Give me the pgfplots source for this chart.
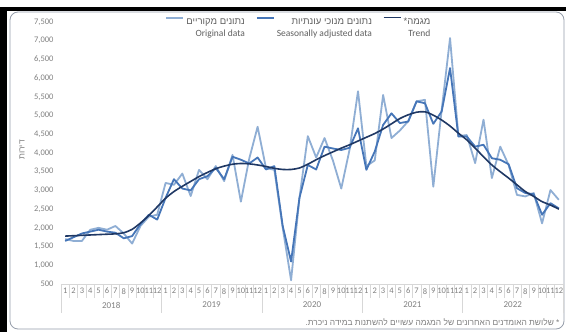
\documentclass[border=0pt]{standalone}
\usepackage{fontspec}
\usepackage{pgfplots}
\usepackage{pgfplotstable}
\pgfplotsset{compat=1.18}
\TeXXeTstate=1
\setmainfont{Carlito}
\newfontfamily\hebfont[Script=Hebrew]{Liberation Sans}
\newcommand\heb[1]{{\hebfont\beginR #1\endR}}

\definecolor{origblue}{RGB}{143,174,212}
\definecolor{sablue}{RGB}{70,118,184}
\definecolor{trendblue}{RGB}{31,56,100}
\definecolor{tickgray}{RGB}{128,128,128}
\definecolor{legendgray}{RGB}{96,96,96}
\definecolor{sepgray}{RGB}{215,215,215}
\definecolor{framegray}{RGB}{150,158,170}

% monthly apartments: original, seasonally adjusted, trend
\pgfplotstableread{
i O S T
0 1700 1650 1780
1 1650 1750 1790
2 1650 1850 1800
3 1950 1900 1810
4 2000 1950 1820
5 1950 1900 1830
6 2050 1870 1840
7 1850 1720 1870
8 1580 1780 1960
9 2050 2100 2130
10 2300 2350 2330
11 2350 2220 2560
12 3200 2800 2790
13 3150 3300 2970
14 3450 3050 3110
15 2850 3000 3240
16 3550 3300 3370
17 3300 3380 3480
18 3650 3600 3580
19 3250 3300 3650
20 3950 3900 3700
21 2700 3820 3720
22 3850 3720 3710
23 4700 3880 3680
24 3600 3560 3640
25 3550 3650 3590
26 2000 2050 3560
27 600 1100 3560
28 2800 2800 3600
29 4450 3680 3700
30 3880 3560 3820
31 4400 4170 3930
32 3800 4120 4030
33 3050 4080 4130
34 4100 4140 4220
35 5650 4660 4320
36 3650 3550 4420
37 3800 4040 4520
38 5550 4750 4640
39 4400 5060 4780
40 4600 4800 4920
41 4850 4840 5020
42 5380 5380 5090
43 5420 5330 5100
44 3100 4780 5010
45 5150 5110 4880
46 7070 6270 4720
47 4450 4440 4530
48 4480 4440 4350
49 3730 4170 4130
50 4890 4220 3900
51 3330 3860 3680
52 4170 3820 3500
53 3680 3700 3330
54 2880 3060 3150
55 2840 2930 2970
56 2930 2900 2840
57 2120 2350 2700
58 3010 2660 2610
59 2750 2520 2500
}\datatable

\begin{document}
\begin{tikzpicture}[x=1pt,y=1pt]
\useasboundingbox (0,0) rectangle (566,332);
\fill[white] (0,0) rectangle (566,332);
% outer dark edges and rounded frame
\fill[black] (0,321) rectangle (566,324.5);
\fill[black] (0,0) rectangle (7,324.5);
\draw[framegray, line width=0.8pt, rounded corners=8pt] (10,3) rectangle (564,320);

\begin{axis}[
  at={(61pt,48pt)}, anchor=south west,
  scale only axis, width=502pt, height=262pt,
  xmin=-0.5, xmax=59.5, ymin=500, ymax=7500,
  clip=false,
  axis x line*=bottom, axis y line*=left,
  y axis line style={draw=none},
  x axis line style={draw=sepgray, line width=0.6pt},
  tick align=outside,
  major tick length=0pt,
  minor tick length=14pt,
  tick style={draw=sepgray, line width=0.5pt},
  ytick={500,1000,...,7500},
  scaled y ticks=false,
  /pgf/number format/assume math mode=true,
  /pgf/number format/1000 sep={,},
  yticklabel style={font=\fontsize{8.5}{9}\selectfont, text=tickgray, xshift=-4pt},
  xtick={0,...,59},
  xticklabels={1,2,3,4,5,6,7,8,9,10,11,12,1,2,3,4,5,6,7,8,9,10,11,12,1,2,3,4,5,6,7,8,9,10,11,12,1,2,3,4,5,6,7,8,9,10,11,12,1,2,3,4,5,6,7,8,9,10,11,12},
  xticklabel style={font=\fontsize{8.5}{9}\selectfont, text=tickgray, inner sep=0pt, yshift=-4pt},
  minor xtick={-0.5,0.5,...,59.5},
  extra x ticks={-0.5,11.5,23.5,35.5,47.5,59.5},
  extra x tick labels={\empty},
  extra x tick style={major tick length=29pt},
  legend columns=3,
  legend cell align=right,
  legend style={at={(0.474,1.040)}, anchor=north, draw=none, fill=none,
    font=\fontsize{9.5}{12}\selectfont, text=legendgray,
    /tikz/every even column/.append style={column sep=9pt}},
  legend image post style={yshift=3pt},
]
\addplot[origblue, line width=1.8pt, line join=round] table[x=i, y=O] {\datatable};
\addlegendentry{\begin{tabular}[t]{@{}r@{}}\heb{נתונים מקוריים}\\Original data\end{tabular}}
\addplot[sablue, line width=1.8pt, line join=round] table[x=i, y=S] {\datatable};
\addlegendentry{\begin{tabular}[t]{@{}r@{}}\heb{נתונים מנוכי עונתיות}\\Seasonally adjusted data\end{tabular}}
\addplot[trendblue, line width=1.6pt, smooth, tension=0.5] table[x=i, y=T] {\datatable};
\addlegendentry{\begin{tabular}[t]{@{}r@{}}\heb{מגמה*}\\Trend\end{tabular}}

\node[font=\fontsize{9}{10}\selectfont, text=tickgray, yshift=-21pt] at (axis cs:5.5,500) {2018};
\node[font=\fontsize{9}{10}\selectfont, text=tickgray, yshift=-21pt] at (axis cs:17.5,500) {2019};
\node[font=\fontsize{9}{10}\selectfont, text=tickgray, yshift=-21pt] at (axis cs:29.5,500) {2020};
\node[font=\fontsize{9}{10}\selectfont, text=tickgray, yshift=-21pt] at (axis cs:41.5,500) {2021};
\node[font=\fontsize{9}{10}\selectfont, text=tickgray, yshift=-21pt] at (axis cs:53.5,500) {2022};
\end{axis}

\node[rotate=90, font=\hebfont\fontsize{8.5}{9}\selectfont, text=tickgray] at (22,182) {\beginR דירות\endR};
\node[anchor=east, font=\hebfont\fontsize{8.4}{9}\selectfont, text=tickgray] at (563,10) {\beginR * שלושת האומדנים האחרונים של המגמה עשויים להשתנות במידה ניכרת.\endR};
\end{tikzpicture}
\end{document}
